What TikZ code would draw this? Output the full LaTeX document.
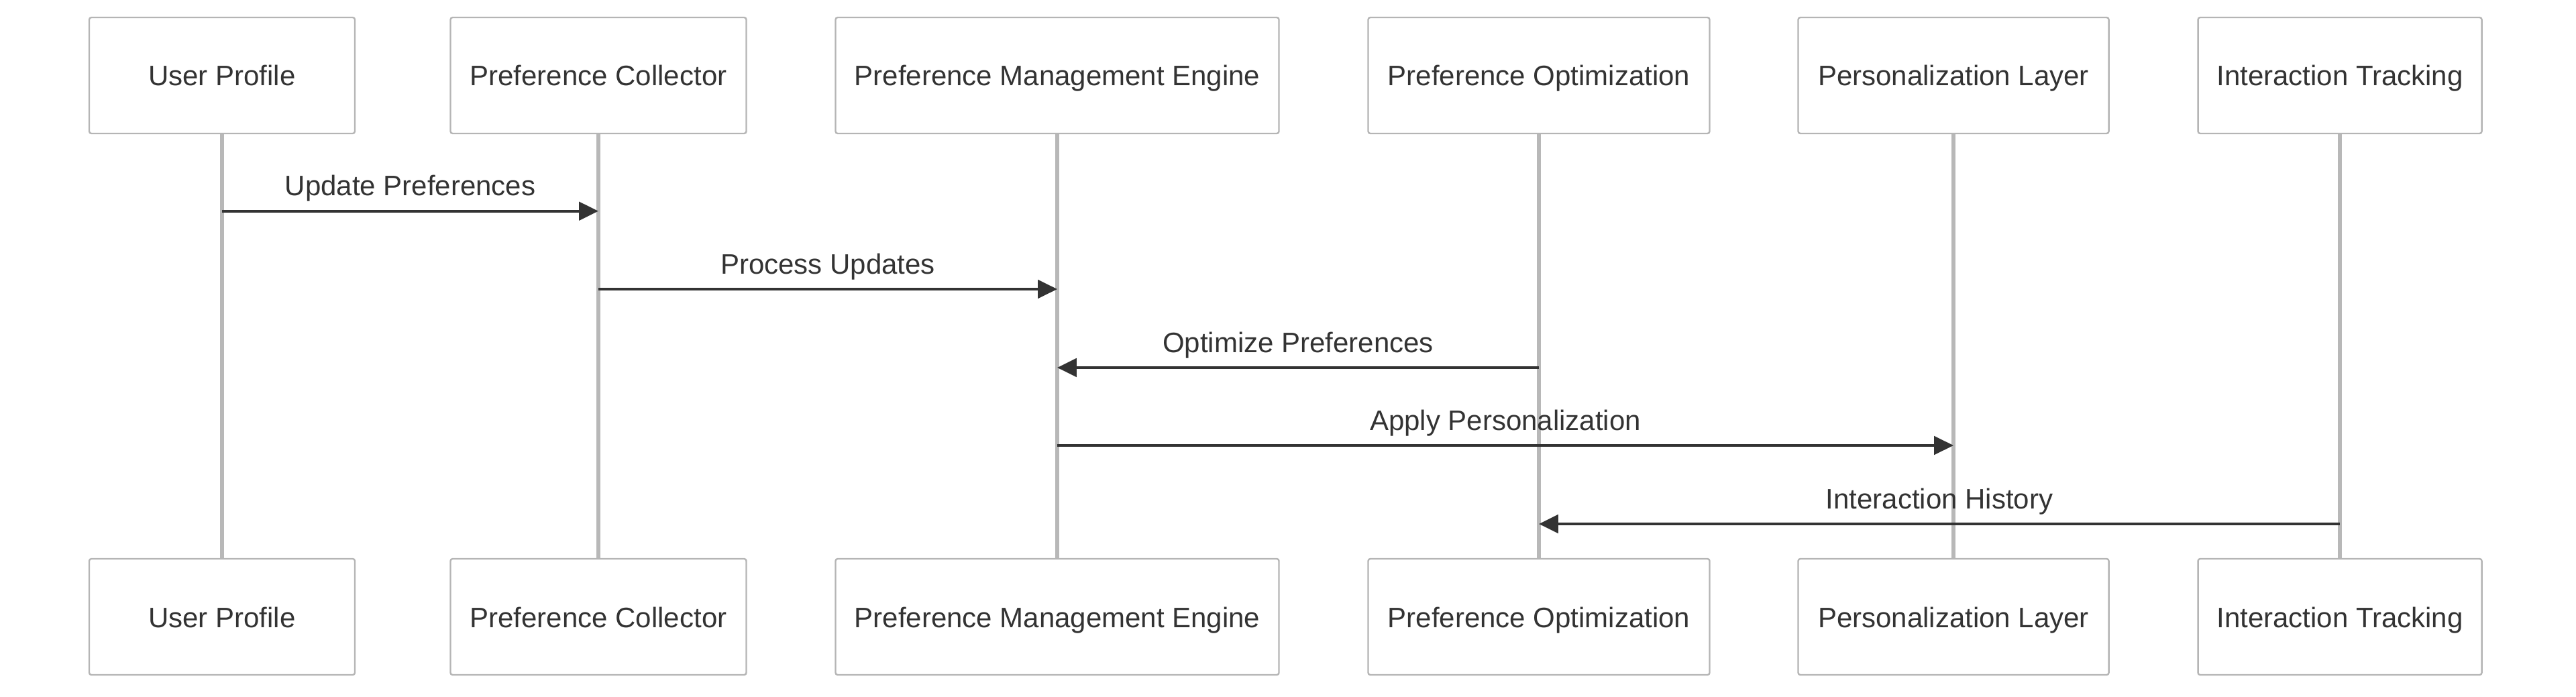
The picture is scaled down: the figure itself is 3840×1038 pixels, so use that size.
\documentclass[tikz,border=0pt]{standalone}
\usepackage{fontspec}
\setmainfont{Liberation Sans}
\usepackage{tikz}
\usetikzlibrary{arrows.meta}
\definecolor{boxline}{HTML}{B5B5B5}
\definecolor{lifeline}{HTML}{B8B8B8}
\definecolor{ink}{HTML}{333333}

\begin{document}
\begin{tikzpicture}[x=0.25pt,y=-0.25pt,font=\fontsize{10.5}{12.6}\selectfont]

	\tikzstyle{actor} = [draw=boxline,line width=0.6pt,fill=white,rounded corners=0.8pt,minimum height=43.25pt,text height=9.95pt,text depth=2.2pt,text=ink]
	\tikzstyle{life} = [draw=lifeline,line width=1.3pt]
	\tikzstyle{msg} = [draw=ink,line width=1.05pt,-{Triangle[length=7.2pt,width=6.8pt]}]
	\tikzstyle{msglabel} = [anchor=base,yshift=5.7pt,text=ink,inner sep=0pt]

	\useasboundingbox (0,0) rectangle (3840,1038);

	% top row
	\node[actor,minimum width=99pt] (user) at (331,112.5) {User Profile};
	\node[actor,minimum width=110.25pt] (coll) at (892,112.5) {Preference Collector};
	\node[actor,minimum width=165.25pt] (engine) at (1576,112.5) {Preference Management Engine};
	\node[actor,minimum width=127.25pt] (optim) at (2294,112.5) {Preference Optimization};
	\node[actor,minimum width=115.75pt] (pers) at (2912,112.5) {Personalization Layer};
	\node[actor,minimum width=105.75pt] (track) at (3488,112.5) {Interaction Tracking};

	% bottom row
	\node[actor,minimum width=99pt] (user2) at (331,919.5) {User Profile};
	\node[actor,minimum width=110.25pt] (coll2) at (892,919.5) {Preference Collector};
	\node[actor,minimum width=165.25pt] (engine2) at (1576,919.5) {Preference Management Engine};
	\node[actor,minimum width=127.25pt] (optim2) at (2294,919.5) {Preference Optimization};
	\node[actor,minimum width=115.75pt] (pers2) at (2912,919.5) {Personalization Layer};
	\node[actor,minimum width=105.75pt] (track2) at (3488,919.5) {Interaction Tracking};

	\draw[life] (user) -- (user2);
	\draw[life] (coll) -- (coll2);
	\draw[life] (engine) -- (engine2);
	\draw[life] (optim) -- (optim2);
	\draw[life] (pers) -- (pers2);
	\draw[life] (track) -- (track2);

	% message ends on the lifelines
	\coordinate (m1a) at (user |- 0,314.7);
	\coordinate (m1b) at (coll |- 0,314.7);
	\coordinate (m2a) at (coll |- 0,431);
	\coordinate (m2b) at (engine |- 0,431);
	\coordinate (m3a) at (optim |- 0,548);
	\coordinate (m3b) at (engine |- 0,548);
	\coordinate (m4a) at (engine |- 0,664);
	\coordinate (m4b) at (pers |- 0,664);
	\coordinate (m5a) at (track |- 0,781);
	\coordinate (m5b) at (optim |- 0,781);

	\draw[msg] (m1a) -- (m1b) node[msglabel,midway] {Update Preferences};
	\draw[msg] (m2a) -- (m2b) node[msglabel,midway] {Process Updates};
	\draw[msg] (m3a) -- (m3b) node[msglabel,midway] {Optimize Preferences};
	\draw[msg] (m4a) -- (m4b) node[msglabel,midway] {Apply Personalization};
	\draw[msg] (m5a) -- (m5b) node[msglabel,midway] {Interaction History};
\end{tikzpicture}
\end{document}
